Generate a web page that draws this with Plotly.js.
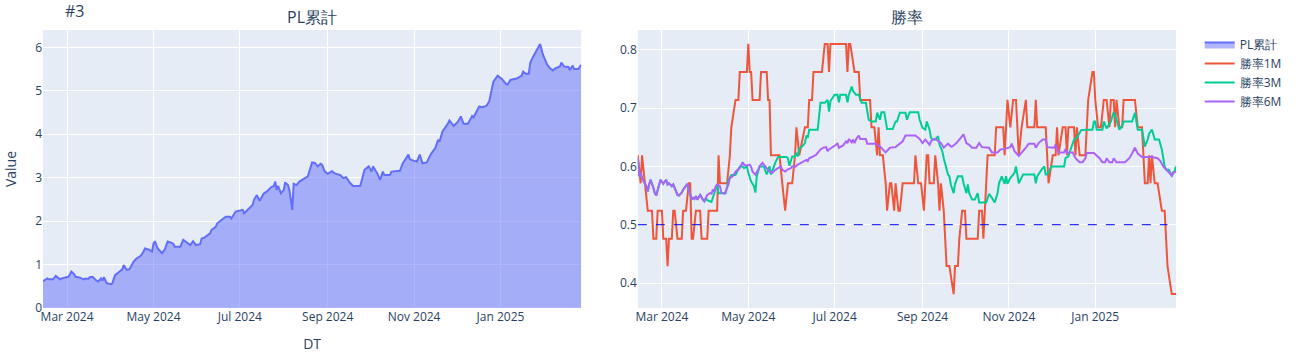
<!DOCTYPE html>
<html>
<head>
<meta charset="utf-8">
<script src="https://cdn.plot.ly/plotly-3.0.1.min.js"></script>
<style>html,body{margin:0;padding:0;background:#fff;}#chart{width:1298px;height:360px;}</style>
</head>
<body>
<div id="chart"></div>
<script>
// ---- PL累計 ----
const plDates = ["2024-02-13","2024-02-16","2024-02-17","2024-02-20","2024-02-22","2024-02-25","2024-02-26","2024-02-29","2024-03-02","2024-03-03","2024-03-04","2024-03-06","2024-03-07","2024-03-09","2024-03-10","2024-03-13","2024-03-14","2024-03-16","2024-03-17","2024-03-19","2024-03-21","2024-03-23","2024-03-25","2024-03-26","2024-03-27","2024-03-28","2024-03-29","2024-04-01","2024-04-02","2024-04-03","2024-04-04","2024-04-06","2024-04-09","2024-04-10","2024-04-12","2024-04-14","2024-04-15","2024-04-17","2024-04-19","2024-04-22","2024-04-24","2024-04-25","2024-04-28","2024-04-30","2024-05-01","2024-05-02","2024-05-04","2024-05-06","2024-05-07","2024-05-09","2024-05-11","2024-05-13","2024-05-15","2024-05-16","2024-05-20","2024-05-22","2024-05-25","2024-05-27","2024-05-29","2024-05-31","2024-06-03","2024-06-04","2024-06-06","2024-06-08","2024-06-10","2024-06-11","2024-06-14","2024-06-15","2024-06-18","2024-06-21","2024-06-24","2024-06-25","2024-06-28","2024-07-01","2024-07-03","2024-07-04","2024-07-07","2024-07-10","2024-07-11","2024-07-13","2024-07-14","2024-07-15","2024-07-18","2024-07-20","2024-07-23","2024-07-25","2024-07-26","2024-07-27","2024-07-28","2024-07-30","2024-08-01","2024-08-02","2024-08-04","2024-08-05","2024-08-07","2024-08-08","2024-08-10","2024-08-12","2024-08-14","2024-08-16","2024-08-18","2024-08-21","2024-08-23","2024-08-25","2024-08-27","2024-08-28","2024-08-30","2024-09-01","2024-09-04","2024-09-06","2024-09-10","2024-09-12","2024-09-14","2024-09-17","2024-09-19","2024-09-24","2024-09-26","2024-09-27","2024-09-30","2024-10-02","2024-10-03","2024-10-06","2024-10-08","2024-10-10","2024-10-11","2024-10-15","2024-10-16","2024-10-22","2024-10-24","2024-10-28","2024-10-29","2024-10-30","2024-11-03","2024-11-05","2024-11-07","2024-11-10","2024-11-12","2024-11-13","2024-11-16","2024-11-18","2024-11-19","2024-11-21","2024-11-25","2024-11-26","2024-11-29","2024-12-02","2024-12-04","2024-12-06","2024-12-09","2024-12-12","2024-12-13","2024-12-17","2024-12-19","2024-12-22","2024-12-24","2024-12-26","2024-12-27","2024-12-30","2025-01-02","2025-01-05","2025-01-06","2025-01-08","2025-01-11","2025-01-13","2025-01-16","2025-01-17","2025-01-19","2025-01-21","2025-01-22","2025-01-24","2025-01-29","2025-01-31","2025-02-03","2025-02-05","2025-02-07","2025-02-09","2025-02-12","2025-02-13","2025-02-15","2025-02-18","2025-02-19","2025-02-21","2025-02-22","2025-02-25","2025-02-27"];
const plValues = [0.62,0.68,0.66,0.66,0.74,0.66,0.68,0.71,0.72,0.78,0.84,0.78,0.72,0.71,0.70,0.66,0.68,0.67,0.71,0.72,0.65,0.61,0.68,0.63,0.71,0.63,0.57,0.55,0.57,0.68,0.76,0.81,0.89,0.99,0.88,0.89,0.95,1.07,1.14,1.20,1.30,1.37,1.34,1.30,1.48,1.54,1.37,1.30,1.26,1.35,1.53,1.51,1.48,1.41,1.41,1.57,1.49,1.45,1.54,1.45,1.47,1.60,1.62,1.66,1.72,1.80,1.87,1.95,2.03,2.10,2.10,2.06,2.22,2.24,2.26,2.18,2.27,2.37,2.49,2.60,2.53,2.47,2.64,2.68,2.78,2.81,2.91,2.72,2.81,2.64,2.72,2.89,2.83,2.72,2.26,2.86,2.83,2.91,2.95,2.99,3.03,3.35,3.34,3.26,3.32,3.30,3.14,3.09,3.15,3.10,3.06,2.99,3.01,2.87,2.81,2.81,3.03,3.18,3.26,3.14,3.26,3.10,2.95,3.14,3.06,3.06,3.14,3.16,3.33,3.53,3.43,3.41,3.37,3.53,3.33,3.35,3.49,3.55,3.68,3.87,3.83,4.06,4.25,4.32,4.19,4.29,4.41,4.24,4.24,4.42,4.39,4.64,4.62,4.65,4.75,5.02,5.21,5.35,5.27,5.16,5.14,5.25,5.27,5.29,5.35,5.44,5.39,5.39,5.64,5.78,6.08,5.83,5.60,5.52,5.47,5.52,5.56,5.65,5.56,5.55,5.48,5.58,5.50,5.50,5.60];

// ---- 勝率1M ----
const wr1Dates = ["2024-02-13","2024-02-15","2024-02-16","2024-02-18","2024-02-20","2024-02-23","2024-02-24","2024-02-26","2024-02-27","2024-03-01","2024-03-02","2024-03-04","2024-03-05","2024-03-06","2024-03-08","2024-03-09","2024-03-10","2024-03-12","2024-03-15","2024-03-16","2024-03-18","2024-03-20","2024-03-21","2024-03-22","2024-03-23","2024-03-25","2024-03-28","2024-03-29","2024-04-02","2024-04-03","2024-04-09","2024-04-10","2024-04-11","2024-04-16","2024-04-18","2024-04-19","2024-04-22","2024-04-24","2024-04-25","2024-04-30","2024-05-01","2024-05-02","2024-05-03","2024-05-04","2024-05-09","2024-05-10","2024-05-14","2024-05-15","2024-05-16","2024-05-17","2024-05-23","2024-05-25","2024-05-27","2024-05-29","2024-06-01","2024-06-03","2024-06-04","2024-06-06","2024-06-10","2024-06-12","2024-06-13","2024-06-15","2024-06-16","2024-06-22","2024-06-24","2024-06-26","2024-06-27","2024-06-28","2024-07-09","2024-07-10","2024-07-11","2024-07-12","2024-07-15","2024-07-18","2024-07-19","2024-07-26","2024-07-27","2024-07-29","2024-07-31","2024-08-01","2024-08-02","2024-08-04","2024-08-06","2024-08-07","2024-08-09","2024-08-10","2024-08-12","2024-08-13","2024-08-15","2024-08-16","2024-08-18","2024-08-26","2024-08-27","2024-08-29","2024-08-31","2024-09-02","2024-09-04","2024-09-05","2024-09-06","2024-09-09","2024-09-10","2024-09-12","2024-09-13","2024-09-14","2024-09-16","2024-09-18","2024-09-20","2024-09-23","2024-09-24","2024-09-26","2024-09-27","2024-09-29","2024-10-01","2024-10-02","2024-10-10","2024-10-11","2024-10-13","2024-10-14","2024-10-16","2024-10-17","2024-10-22","2024-10-23","2024-10-28","2024-10-29","2024-10-31","2024-11-02","2024-11-04","2024-11-06","2024-11-08","2024-11-10","2024-11-13","2024-11-14","2024-11-19","2024-11-20","2024-11-21","2024-11-27","2024-11-28","2024-11-29","2024-12-02","2024-12-04","2024-12-05","2024-12-06","2024-12-09","2024-12-11","2024-12-12","2024-12-13","2024-12-17","2024-12-18","2024-12-19","2024-12-21","2024-12-25","2024-12-27","2024-12-30","2024-12-31","2025-01-01","2025-01-03","2025-01-05","2025-01-07","2025-01-09","2025-01-11","2025-01-12","2025-01-14","2025-01-15","2025-01-16","2025-01-18","2025-01-20","2025-01-21","2025-01-29","2025-01-31","2025-02-03","2025-02-05","2025-02-07","2025-02-08","2025-02-09","2025-02-10","2025-02-12","2025-02-14","2025-02-17","2025-02-19","2025-02-21","2025-02-24","2025-02-27"];
const wr1Values = [0.619,0.571,0.619,0.571,0.524,0.524,0.476,0.476,0.524,0.524,0.476,0.476,0.429,0.476,0.476,0.524,0.524,0.476,0.476,0.524,0.524,0.571,0.571,0.476,0.476,0.524,0.524,0.476,0.476,0.524,0.524,0.619,0.571,0.571,0.619,0.667,0.714,0.714,0.762,0.762,0.810,0.762,0.762,0.714,0.714,0.762,0.762,0.714,0.714,0.619,0.619,0.571,0.524,0.571,0.571,0.619,0.667,0.619,0.667,0.667,0.714,0.714,0.762,0.762,0.810,0.810,0.762,0.810,0.810,0.762,0.810,0.810,0.762,0.762,0.714,0.714,0.667,0.667,0.619,0.667,0.619,0.619,0.571,0.524,0.571,0.571,0.524,0.571,0.524,0.524,0.571,0.571,0.619,0.571,0.571,0.524,0.619,0.619,0.571,0.571,0.619,0.571,0.524,0.571,0.524,0.429,0.429,0.381,0.429,0.429,0.476,0.524,0.524,0.476,0.476,0.524,0.524,0.476,0.571,0.619,0.619,0.667,0.667,0.619,0.714,0.667,0.714,0.714,0.619,0.667,0.714,0.667,0.667,0.714,0.667,0.667,0.619,0.571,0.619,0.619,0.667,0.619,0.667,0.667,0.619,0.667,0.667,0.619,0.667,0.619,0.619,0.714,0.762,0.762,0.714,0.667,0.667,0.714,0.714,0.667,0.714,0.714,0.667,0.714,0.667,0.667,0.714,0.714,0.667,0.667,0.571,0.571,0.619,0.571,0.619,0.571,0.571,0.524,0.524,0.429,0.381,0.381];

// ---- 勝率3M ----
const wr3Dates = ["2024-02-13","2024-02-14","2024-02-15","2024-02-16","2024-02-19","2024-02-20","2024-02-21","2024-02-22","2024-02-24","2024-02-25","2024-02-26","2024-02-27","2024-02-28","2024-02-29","2024-03-02","2024-03-03","2024-03-04","2024-03-05","2024-03-06","2024-03-08","2024-03-09","2024-03-10","2024-03-11","2024-03-12","2024-03-13","2024-03-15","2024-03-16","2024-03-17","2024-03-18","2024-03-19","2024-03-20","2024-03-22","2024-03-23","2024-03-24","2024-03-25","2024-03-26","2024-03-28","2024-03-29","2024-03-30","2024-03-31","2024-04-01","2024-04-02","2024-04-05","2024-04-07","2024-04-09","2024-04-10","2024-04-15","2024-04-17","2024-04-19","2024-04-22","2024-04-25","2024-04-27","2024-04-28","2024-04-30","2024-05-01","2024-05-03","2024-05-05","2024-05-06","2024-05-07","2024-05-09","2024-05-12","2024-05-14","2024-05-15","2024-05-16","2024-05-17","2024-05-18","2024-05-20","2024-05-22","2024-05-28","2024-05-29","2024-05-30","2024-06-01","2024-06-03","2024-06-04","2024-06-05","2024-06-06","2024-06-08","2024-06-10","2024-06-11","2024-06-12","2024-06-13","2024-06-19","2024-06-21","2024-06-24","2024-06-26","2024-06-27","2024-06-28","2024-07-01","2024-07-03","2024-07-04","2024-07-05","2024-07-09","2024-07-10","2024-07-11","2024-07-13","2024-07-14","2024-07-16","2024-07-18","2024-07-20","2024-07-23","2024-07-24","2024-07-25","2024-07-27","2024-07-30","2024-07-31","2024-08-02","2024-08-03","2024-08-05","2024-08-07","2024-08-11","2024-08-13","2024-08-14","2024-08-16","2024-08-20","2024-08-21","2024-08-23","2024-08-29","2024-08-30","2024-09-01","2024-09-03","2024-09-04","2024-09-06","2024-09-07","2024-09-08","2024-09-10","2024-09-12","2024-09-13","2024-09-15","2024-09-16","2024-09-19","2024-09-20","2024-09-21","2024-09-23","2024-09-24","2024-09-26","2024-09-29","2024-09-30","2024-10-02","2024-10-03","2024-10-04","2024-10-06","2024-10-08","2024-10-10","2024-10-11","2024-10-16","2024-10-18","2024-10-20","2024-10-22","2024-10-24","2024-10-25","2024-10-27","2024-10-29","2024-10-30","2024-10-31","2024-11-02","2024-11-05","2024-11-06","2024-11-08","2024-11-11","2024-11-19","2024-11-20","2024-11-21","2024-11-24","2024-11-26","2024-11-27","2024-11-28","2024-12-01","2024-12-10","2024-12-11","2024-12-13","2024-12-15","2024-12-17","2024-12-19","2024-12-22","2024-12-26","2024-12-30","2024-12-31","2025-01-01","2025-01-02","2025-01-06","2025-01-07","2025-01-09","2025-01-12","2025-01-14","2025-01-16","2025-01-18","2025-01-20","2025-01-21","2025-01-27","2025-01-29","2025-01-31","2025-02-03","2025-02-05","2025-02-07","2025-02-08","2025-02-10","2025-02-12","2025-02-15","2025-02-17","2025-02-19","2025-02-20","2025-02-22","2025-02-24","2025-02-26","2025-02-27"];
const wr3Values = [0.614,0.583,0.589,0.580,0.566,0.557,0.569,0.577,0.563,0.554,0.550,0.560,0.569,0.577,0.570,0.574,0.577,0.569,0.571,0.566,0.569,0.563,0.555,0.551,0.550,0.555,0.560,0.563,0.566,0.570,0.560,0.544,0.546,0.544,0.549,0.543,0.551,0.546,0.543,0.540,0.546,0.542,0.539,0.554,0.569,0.554,0.554,0.577,0.585,0.585,0.600,0.600,0.597,0.600,0.589,0.574,0.566,0.555,0.583,0.600,0.600,0.586,0.594,0.600,0.586,0.594,0.606,0.616,0.616,0.614,0.601,0.617,0.617,0.623,0.617,0.631,0.634,0.640,0.653,0.649,0.663,0.663,0.709,0.709,0.714,0.694,0.712,0.723,0.723,0.710,0.723,0.723,0.710,0.723,0.737,0.729,0.723,0.723,0.709,0.709,0.694,0.680,0.677,0.677,0.692,0.680,0.693,0.693,0.664,0.664,0.677,0.677,0.692,0.692,0.680,0.693,0.693,0.680,0.666,0.663,0.677,0.663,0.649,0.646,0.646,0.652,0.637,0.626,0.614,0.586,0.583,0.569,0.554,0.570,0.583,0.583,0.571,0.554,0.569,0.554,0.543,0.543,0.554,0.538,0.538,0.553,0.546,0.538,0.554,0.571,0.583,0.570,0.583,0.570,0.580,0.589,0.600,0.571,0.586,0.586,0.571,0.583,0.594,0.600,0.586,0.586,0.600,0.600,0.614,0.617,0.632,0.646,0.649,0.662,0.663,0.663,0.677,0.677,0.663,0.663,0.677,0.665,0.677,0.693,0.680,0.663,0.669,0.677,0.677,0.692,0.663,0.663,0.634,0.646,0.656,0.663,0.646,0.646,0.629,0.600,0.594,0.594,0.584,0.591,0.600];

// ---- 勝率6M ----
const wr6Dates = ["2024-02-13","2024-02-14","2024-02-15","2024-02-16","2024-02-19","2024-02-20","2024-02-21","2024-02-22","2024-02-24","2024-02-25","2024-02-26","2024-02-27","2024-02-28","2024-02-29","2024-03-02","2024-03-03","2024-03-04","2024-03-05","2024-03-06","2024-03-08","2024-03-09","2024-03-10","2024-03-11","2024-03-12","2024-03-13","2024-03-15","2024-03-16","2024-03-17","2024-03-18","2024-03-19","2024-03-20","2024-03-22","2024-03-23","2024-03-24","2024-03-25","2024-03-26","2024-03-28","2024-03-29","2024-03-30","2024-03-31","2024-04-01","2024-04-02","2024-04-04","2024-04-05","2024-04-06","2024-04-07","2024-04-08","2024-04-09","2024-04-11","2024-04-12","2024-04-14","2024-04-15","2024-04-17","2024-04-18","2024-04-20","2024-04-22","2024-04-25","2024-04-27","2024-04-28","2024-04-30","2024-05-02","2024-05-03","2024-05-04","2024-05-06","2024-05-08","2024-05-09","2024-05-11","2024-05-12","2024-05-14","2024-05-16","2024-05-18","2024-05-20","2024-05-22","2024-05-24","2024-05-25","2024-05-27","2024-05-29","2024-05-31","2024-06-01","2024-06-03","2024-06-05","2024-06-07","2024-06-10","2024-06-11","2024-06-12","2024-06-13","2024-06-15","2024-06-18","2024-06-21","2024-06-23","2024-06-25","2024-06-26","2024-06-27","2024-06-29","2024-07-02","2024-07-03","2024-07-04","2024-07-07","2024-07-09","2024-07-10","2024-07-11","2024-07-13","2024-07-14","2024-07-15","2024-07-16","2024-07-18","2024-07-19","2024-07-23","2024-07-24","2024-07-27","2024-07-30","2024-08-02","2024-08-04","2024-08-06","2024-08-09","2024-08-13","2024-08-16","2024-08-18","2024-08-20","2024-08-27","2024-08-30","2024-09-01","2024-09-03","2024-09-05","2024-09-06","2024-09-07","2024-09-08","2024-09-10","2024-09-12","2024-09-14","2024-09-16","2024-09-19","2024-09-21","2024-09-22","2024-09-25","2024-09-27","2024-09-29","2024-09-30","2024-10-02","2024-10-04","2024-10-06","2024-10-09","2024-10-11","2024-10-13","2024-10-18","2024-10-20","2024-10-24","2024-10-26","2024-10-29","2024-10-31","2024-11-02","2024-11-03","2024-11-05","2024-11-08","2024-11-11","2024-11-13","2024-11-15","2024-11-19","2024-11-20","2024-11-22","2024-11-25","2024-11-27","2024-11-28","2024-12-03","2024-12-04","2024-12-06","2024-12-10","2024-12-11","2024-12-12","2024-12-16","2024-12-18","2024-12-21","2024-12-23","2024-12-25","2024-12-26","2024-12-31","2025-01-04","2025-01-06","2025-01-08","2025-01-09","2025-01-11","2025-01-13","2025-01-14","2025-01-16","2025-01-22","2025-01-25","2025-01-27","2025-01-29","2025-01-31","2025-02-03","2025-02-10","2025-02-14","2025-02-16","2025-02-18","2025-02-20","2025-02-22","2025-02-24","2025-02-25","2025-02-27"];
const wr6Values = [0.614,0.583,0.589,0.580,0.566,0.557,0.569,0.577,0.563,0.554,0.550,0.560,0.569,0.577,0.570,0.574,0.577,0.569,0.571,0.566,0.569,0.563,0.555,0.551,0.550,0.555,0.560,0.563,0.566,0.570,0.560,0.544,0.546,0.544,0.549,0.543,0.551,0.546,0.543,0.540,0.546,0.551,0.554,0.553,0.560,0.557,0.566,0.569,0.566,0.555,0.553,0.557,0.569,0.580,0.583,0.591,0.597,0.607,0.603,0.601,0.603,0.599,0.591,0.586,0.594,0.600,0.606,0.603,0.597,0.591,0.589,0.594,0.597,0.600,0.594,0.591,0.595,0.597,0.600,0.599,0.603,0.606,0.609,0.611,0.609,0.614,0.616,0.620,0.629,0.632,0.633,0.626,0.629,0.632,0.637,0.640,0.632,0.636,0.643,0.640,0.647,0.641,0.646,0.640,0.646,0.653,0.647,0.647,0.639,0.639,0.639,0.634,0.628,0.624,0.632,0.633,0.639,0.643,0.653,0.653,0.647,0.640,0.646,0.640,0.637,0.643,0.646,0.647,0.643,0.640,0.632,0.639,0.634,0.634,0.640,0.646,0.653,0.655,0.640,0.637,0.632,0.632,0.640,0.633,0.632,0.624,0.624,0.629,0.630,0.632,0.633,0.639,0.626,0.618,0.626,0.632,0.639,0.639,0.632,0.640,0.646,0.646,0.633,0.632,0.637,0.624,0.624,0.630,0.623,0.624,0.614,0.607,0.607,0.614,0.623,0.623,0.614,0.607,0.607,0.614,0.607,0.607,0.614,0.607,0.607,0.614,0.622,0.632,0.622,0.616,0.616,0.614,0.609,0.600,0.595,0.590,0.584,0.590,0.591];

// ---- reference line ----
const refDates = ["2024-02-13","2025-02-21"];
const refValues = [0.5, 0.5];

const titleText = "#3";
const subTitles = ["PL累計", "勝率"];
const names = ["PL累計", "勝率1M", "勝率3M", "勝率6M"];
const colors = ["#636EFA", "#EF553B", "#00CC96", "#AB63FA"];

const traces = [
  {x: plDates, y: plValues, name: names[0], type: "scatter", mode: "lines", fill: "tozeroy",
   line: {color: colors[0], width: 2}, xaxis: "x", yaxis: "y"},
  {x: wr1Dates, y: wr1Values, name: names[1], type: "scatter", mode: "lines",
   line: {color: colors[1], width: 2}, xaxis: "x2", yaxis: "y2"},
  {x: wr3Dates, y: wr3Values, name: names[2], type: "scatter", mode: "lines",
   line: {color: colors[2], width: 2}, xaxis: "x2", yaxis: "y2"},
  {x: wr6Dates, y: wr6Values, name: names[3], type: "scatter", mode: "lines",
   line: {color: colors[3], width: 2}, xaxis: "x2", yaxis: "y2"},
  {x: refDates, y: refValues, type: "scatter", mode: "lines", showlegend: false,
   line: {color: "blue", width: 1, dash: "dash"}, xaxis: "x2", yaxis: "y2"}
];

const axisCommon = {
  gridcolor: "white", linecolor: "white", zerolinecolor: "white", zerolinewidth: 2,
  ticks: "", tickfont: {color: "#2a3f5f", size: 12}, showline: false
};

const layout = {
  width: 1298, height: 360,
  margin: {l: 43, r: 121, t: 30, b: 52},
  paper_bgcolor: "white", plot_bgcolor: "#E5ECF6",
  font: {family: "'Open Sans', verdana, arial, sans-serif", color: "#2a3f5f", size: 12},
  title: {text: titleText, x: 0.05, xanchor: "left", y: 0.968, yref: "container", yanchor: "middle",
          font: {size: 16, color: "#2a3f5f"}},
  showlegend: true,
  legend: {font: {size: 12}},
  xaxis: Object.assign({}, axisCommon, {domain: [0, 0.475], anchor: "y", type: "date",
    title: {text: "DT", standoff: 15, font: {size: 14}}}),
  yaxis: Object.assign({}, axisCommon, {domain: [0, 1], anchor: "x",
    title: {text: "Value", standoff: 15, font: {size: 14}}}),
  xaxis2: Object.assign({}, axisCommon, {domain: [0.525, 1], anchor: "y2", type: "date"}),
  yaxis2: Object.assign({}, axisCommon, {domain: [0, 1], anchor: "x2"}),
  annotations: [
    {text: subTitles[0], x: 0.2375, y: 1, xref: "paper", yref: "paper", xanchor: "center", yanchor: "bottom",
     showarrow: false, font: {size: 16}},
    {text: subTitles[1], x: 0.7625, y: 1, xref: "paper", yref: "paper", xanchor: "center", yanchor: "bottom",
     showarrow: false, font: {size: 16}}
  ]
};

Plotly.newPlot("chart", traces, layout, {displayModeBar: false, responsive: false});
</script>
</body>
</html>
